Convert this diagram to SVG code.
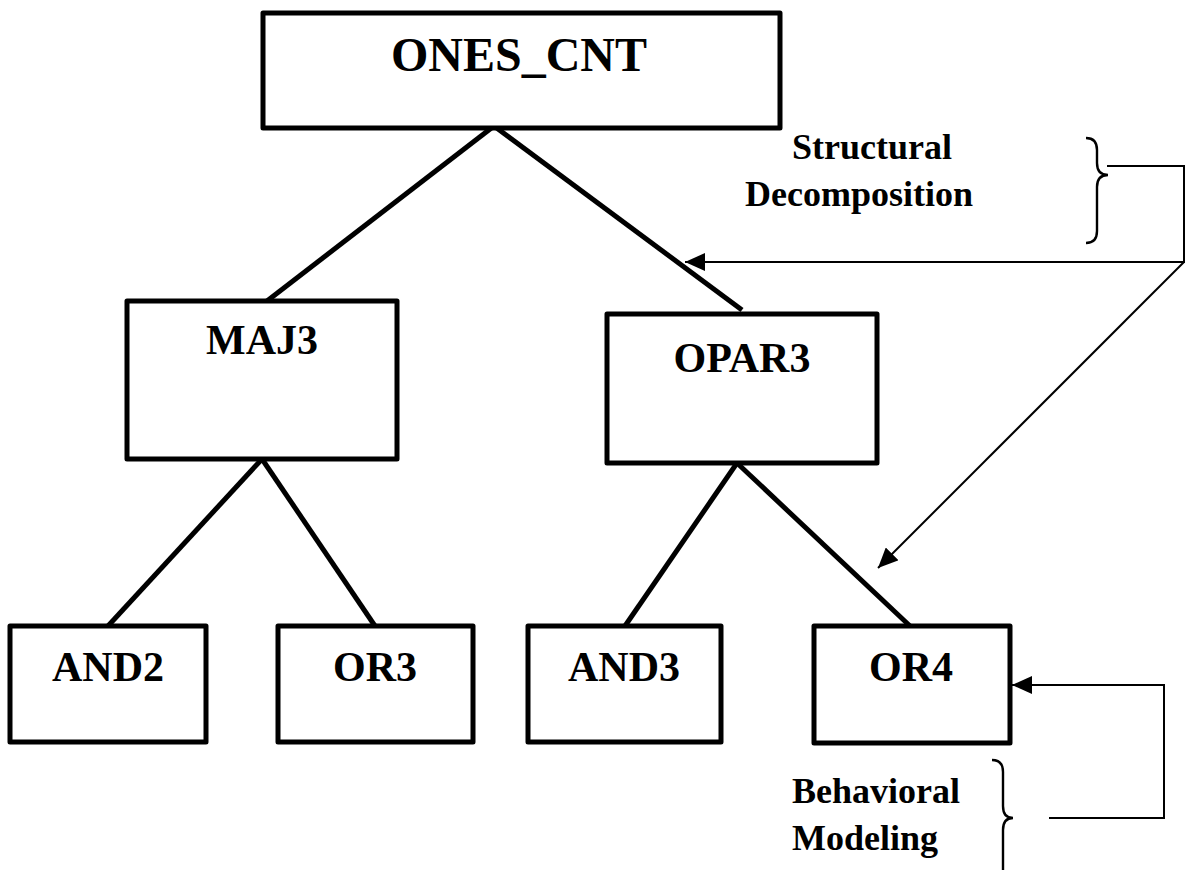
<svg xmlns="http://www.w3.org/2000/svg" width="1192" height="870" viewBox="0 0 1192 870">
  <style>
    .box { fill: #fff; stroke: #000; stroke-width: 5; stroke-linejoin: round; }
    .edge { stroke: #000; stroke-width: 5; fill: none; }
    .thin { stroke: #000; stroke-width: 2; fill: none; }
    .brace { stroke: #000; stroke-width: 2.4; fill: none; }
    .lbl { font-family: "Liberation Serif", "Times New Roman", serif; font-weight: bold; fill: #000; text-anchor: middle; }
    .big { font-size: 48px; }
    .mid { font-size: 42px; }
    .note { font-family: "Liberation Serif", "Times New Roman", serif; font-weight: bold; font-size: 36px; fill: #000; }
  </style>
  <defs>
    <marker id="arrowL" viewBox="0 0 20 18" refX="20" refY="9" markerWidth="20" markerHeight="18" markerUnits="userSpaceOnUse" orient="auto">
      <path d="M0,0 L20,9 L0,18 z" fill="#000"/>
    </marker>
  </defs>

  <!-- hierarchy edges and annotation leaders -->
  <g id="connectors">
    <line class="edge" x1="494" y1="126" x2="267" y2="301"/>
    <line class="edge" x1="494" y1="126" x2="742" y2="310"/>
    <line class="edge" x1="262" y1="459" x2="108" y2="626"/>
    <line class="edge" x1="262" y1="459" x2="375" y2="626"/>
    <line class="edge" x1="737" y1="463" x2="625" y2="626"/>
    <line class="edge" x1="737" y1="463" x2="910" y2="626"/>

    <polyline class="thin" points="1107,166 1184,166 1184,262 685,262" marker-end="url(#arrowL)"/>
    <line class="thin" x1="1184" y1="262" x2="878" y2="568" marker-end="url(#arrowL)"/>
    <polyline class="thin" points="1049,818 1164,818 1164,685 1012,685" marker-end="url(#arrowL)"/>
  </g>

  <g id="ones_cnt">
    <rect class="box" x="263" y="13" width="517" height="115"/>
    <text class="lbl big" x="519" y="71">ONES_CNT</text>
  </g>
  <g id="maj3">
    <rect class="box" x="127" y="301" width="270" height="158"/>
    <text class="lbl mid" x="262" y="354">MAJ3</text>
  </g>
  <g id="opar3">
    <rect class="box" x="607" y="314" width="270" height="149"/>
    <text class="lbl mid" x="742" y="372">OPAR3</text>
  </g>
  <g id="and2">
    <rect class="box" x="10" y="626" width="196" height="116"/>
    <text class="lbl mid" x="108" y="681">AND2</text>
  </g>
  <g id="or3">
    <rect class="box" x="278" y="626" width="195" height="116"/>
    <text class="lbl mid" x="375" y="681">OR3</text>
  </g>
  <g id="and3">
    <rect class="box" x="528" y="626" width="193" height="116"/>
    <text class="lbl mid" x="624" y="681">AND3</text>
  </g>
  <g id="or4">
    <rect class="box" x="814" y="626" width="196" height="117"/>
    <text class="lbl mid" x="911" y="681">OR4</text>
  </g>

  <g id="structural">
    <text class="note" x="872" y="159" text-anchor="middle">Structural</text>
    <text class="note" x="859" y="206" text-anchor="middle">Decomposition</text>
    <path class="brace" d="M1086,138 Q1097,138 1097,150 L1097,163 Q1097,175 1108,175 Q1097,175 1097,187 L1097,231 Q1097,243 1086,243"/>
  </g>
  <g id="behavioral">
    <text class="note" x="792" y="803">Behavioral</text>
    <text class="note" x="792" y="850">Modeling</text>
    <path class="brace" d="M992,760 Q1003,760 1003,772 L1003,806 Q1003,818 1013,818 Q1003,818 1003,830 L1003,870"/>
  </g>
</svg>
